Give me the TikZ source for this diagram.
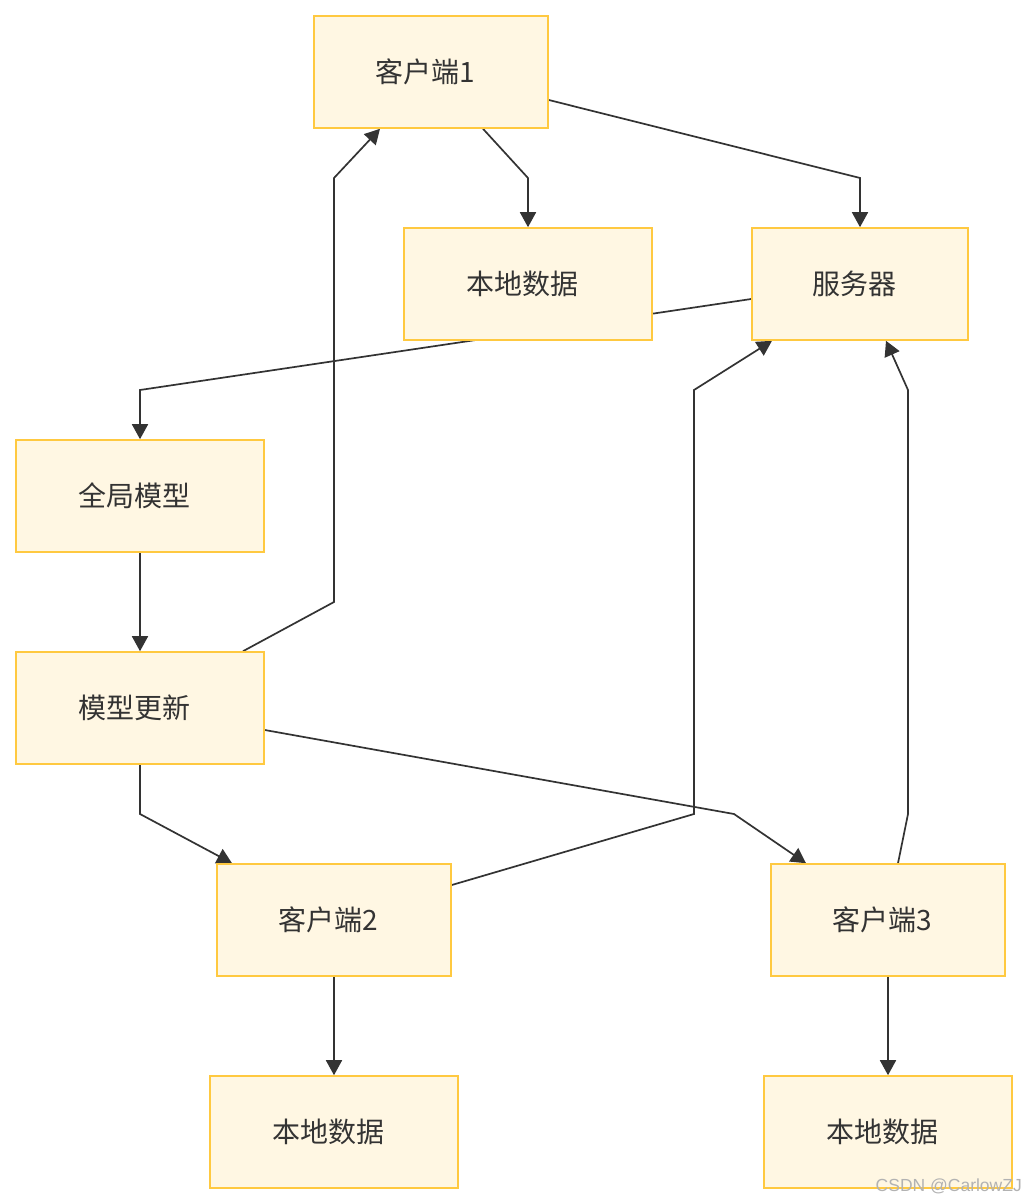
\documentclass[tikz,border=0pt]{standalone}
\usepackage{fontspec}
\newfontfamily\cjk{Noto Sans CJK SC}
\newfontfamily\wmfont{Liberation Sans}
\usetikzlibrary{arrows.meta}
\pgfdeclarelayer{back}
\pgfdeclarelayer{edges}
\pgfsetlayers{back,edges,main}
\definecolor{boxfill}{HTML}{FFF7E3}
\definecolor{boxdraw}{HTML}{FFC940}
\definecolor{edgecol}{HTML}{333333}
\newcommand{\lbl}[1]{#1\hspace*{12pt}}
\begin{document}
\begin{tikzpicture}[x=1pt,y=-1pt,
  box/.style={draw=boxdraw,fill=boxfill,line width=1.6pt,minimum width=#1,minimum height=112pt,inner sep=0pt,
    font=\cjk\fontsize{28}{32}\selectfont,text=edgecol},
  box/.default=248pt,
  edge/.style={draw=edgecol,line width=1.7pt,-{Triangle[length=15pt,width=16pt]}}]
\begin{pgfonlayer}{back}
\fill[white] (0,0) rectangle (1028,1204);
\end{pgfonlayer}
\useasboundingbox (0,0) rectangle (1028,1204);
\node[box=234pt] (c1) at (431,72) {\lbl{客户端1}};
\node[box] (ld1) at (528,284) {\lbl{本地数据}};
\node[box=216pt] (srv) at (860,284) {\lbl{服务器}};
\node[box] (gm) at (140,496) {\lbl{全局模型}};
\node[box] (mu) at (140,708) {\lbl{模型更新}};
\node[box=234pt] (c2) at (334,920) {\lbl{客户端2}};
\node[box=234pt] (c3) at (888,920) {\lbl{客户端3}};
\node[box] (ld2) at (334,1132) {\lbl{本地数据}};
\node[box] (ld3) at (888,1132) {\lbl{本地数据}};
\begin{pgfonlayer}{edges}
\draw[edge] ([xshift=52pt]c1.south) -- (528,178) -- (ld1.north);
\draw[edge] ([yshift=-28pt]c1.east) -- (860,178) -- (srv.north);
\draw[edge] ([yshift=-15pt]srv.west) -- (140,390) -- (gm.north);
\draw[edge] (gm.south) -- (mu.north);
\draw[edge] ([xshift=103pt]mu.north) -- (334,602) -- (334,178) -- ([xshift=-51pt]c1.south);
\draw[edge] (mu.south) -- (140,814) -- ([xshift=-102pt]c2.north);
\draw[edge] ([yshift=-22pt]mu.east) -- (734,814) -- ([xshift=-82pt]c3.north);
\draw[edge] ([yshift=35pt]c2.east) -- (694,814) -- (694,390) -- ([xshift=-88pt]srv.south);
\draw[edge] ([xshift=10pt]c3.north) -- (908,814) -- (908,390) -- ([xshift=26pt]srv.south);
\draw[edge] (c2.south) -- (ld2.north);
\draw[edge] (c3.south) -- (ld3.north);
\end{pgfonlayer}
\node[anchor=east,text=black!30,font=\wmfont\fontsize{17.5}{20}\selectfont,inner sep=0pt] (wm) at (1022,1186) {CSDN @CarlowZJ};
\end{tikzpicture}
\end{document}
